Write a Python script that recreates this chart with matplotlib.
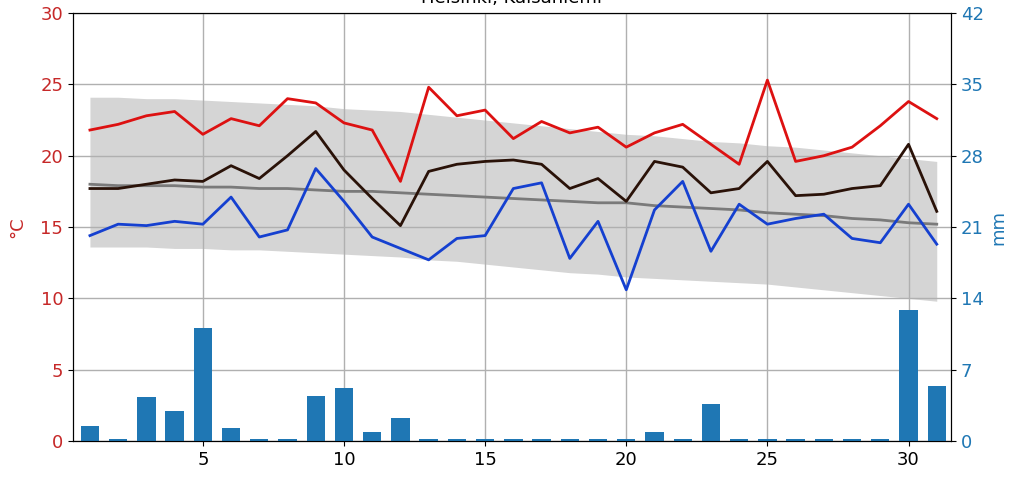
import matplotlib
matplotlib.use('Agg')
import matplotlib.pyplot as plt

days = list(range(1, 32))

t_max = [21.8, 22.2, 22.8, 23.1, 21.5, 22.6, 22.1, 24.0, 23.7, 22.3,
         21.8, 18.2, 24.8, 22.8, 23.2, 21.2, 22.4, 21.6, 22.0, 20.6,
         21.6, 22.2, 20.8, 19.4, 25.3, 19.6, 20.0, 20.6, 22.1, 23.8, 22.6]
t_mean = [17.7, 17.7, 18.0, 18.3, 18.2, 19.3, 18.4, 20.0, 21.7, 19.0,
          17.0, 15.1, 18.9, 19.4, 19.6, 19.7, 19.4, 17.7, 18.4, 16.8,
          19.6, 19.2, 17.4, 17.7, 19.6, 17.2, 17.3, 17.7, 17.9, 20.8, 16.1]
t_min = [14.4, 15.2, 15.1, 15.4, 15.2, 17.1, 14.3, 14.8, 19.1, 16.8,
         14.3, 13.5, 12.7, 14.2, 14.4, 17.7, 18.1, 12.8, 15.4, 10.6,
         16.2, 18.2, 13.3, 16.6, 15.2, 15.6, 15.9, 14.2, 13.9, 16.6, 13.8]

# long-term statistics
clim_mean = [18.0, 17.9, 17.9, 17.9, 17.8, 17.8, 17.7, 17.7, 17.6, 17.5,
             17.5, 17.4, 17.3, 17.2, 17.1, 17.0, 16.9, 16.8, 16.7, 16.7,
             16.5, 16.4, 16.3, 16.2, 16.0, 15.9, 15.8, 15.6, 15.5, 15.3, 15.2]
clim_hi = [24.1, 24.1, 24.0, 24.0, 23.9, 23.8, 23.7, 23.6, 23.5, 23.3,
           23.2, 23.1, 22.9, 22.7, 22.5, 22.3, 22.1, 21.9, 21.7, 21.5,
           21.4, 21.2, 21.0, 20.9, 20.7, 20.6, 20.4, 20.2, 20.0, 19.8, 19.6]
clim_lo = [13.6, 13.6, 13.6, 13.5, 13.5, 13.4, 13.4, 13.3, 13.2, 13.1,
           13.0, 12.9, 12.7, 12.6, 12.4, 12.2, 12.0, 11.8, 11.7, 11.5,
           11.4, 11.3, 11.2, 11.1, 11.0, 10.8, 10.6, 10.4, 10.2, 10.0, 9.8]

rain = [1.5, 0.2, 4.3, 2.9, 11.1, 1.3, 0.2, 0.2, 4.4, 5.2,
        0.9, 2.3, 0.2, 0.2, 0.2, 0.2, 0.2, 0.2, 0.2, 0.2,
        0.9, 0.2, 3.6, 0.2, 0.2, 0.2, 0.2, 0.2, 0.2, 12.9, 5.4]

fs = 13
fig = plt.figure(figsize=(10.34, 4.84), dpi=100)
ax = fig.add_axes([0.0706, 0.0888, 0.849, 0.8842])
ax2 = ax.twinx()

ax.fill_between(days, clim_lo, clim_hi, color='#d5d5d5', lw=0)
ax.plot(days, clim_mean, color='#7a7a7a', lw=2)
ax.plot(days, t_max, color='#dd1111', lw=2)
ax.plot(days, t_mean, color='#2a1208', lw=2)
ax.plot(days, t_min, color='#1540d0', lw=2)

ax2.bar(days, rain, width=0.65, color='#1f77b4')

ax.set_axisbelow('line')
ax.grid(True, color='#b0b0b0', lw=1)
ax.set_xlim(0.4, 31.5)
ax.set_ylim(0, 30)
ax2.set_ylim(0, 42)
ax.set_xticks([5, 10, 15, 20, 25, 30])
ax.set_yticks([0, 5, 10, 15, 20, 25, 30])
ax2.set_yticks([0, 7, 14, 21, 28, 35, 42])

ax.tick_params(axis='y', labelcolor='#c62828', labelsize=fs)
ax.tick_params(axis='x', labelsize=fs)
ax2.tick_params(axis='y', labelcolor='#1f77b4', labelsize=fs)
ax.set_ylabel('°C', color='#c62828', fontsize=fs, labelpad=10)
ax2.set_ylabel('mm', color='#1f77b4', fontsize=fs)

ax.set_title('Helsinki, Kaisaniemi', fontsize=fs, pad=7)

fig.savefig('out.png', dpi=100)
